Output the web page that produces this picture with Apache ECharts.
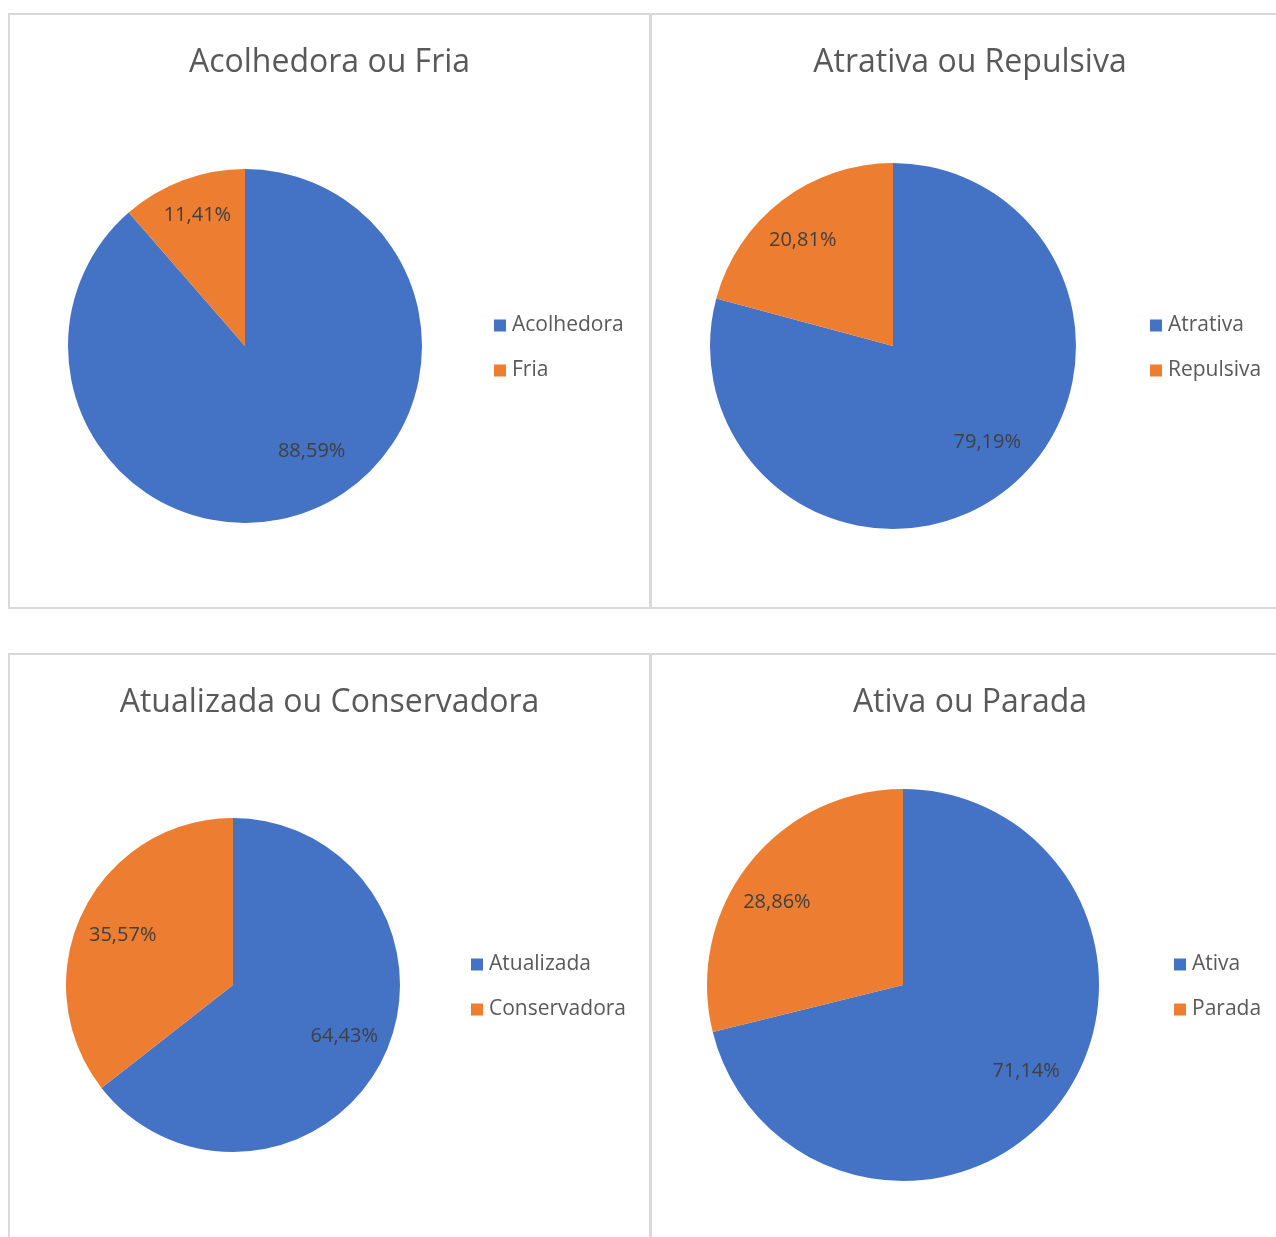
<!DOCTYPE html>
<html>
<head>
<meta charset="utf-8">
<script src="https://cdn.jsdelivr.net/npm/echarts@6/dist/echarts.min.js"></script>
<style>
  html, body { margin: 0; padding: 0; background: #ffffff; width: 1276px; height: 1237px; overflow: hidden; }
  .chart { position: absolute; }
  .frame { position: absolute; box-sizing: border-box; border: 2px solid #d9d9d9; pointer-events: none; }
</style>
</head>
<body>
<script>
// Survey results: perceived image, two opposite answers per question
const titles = ['Acolhedora ou Fria', 'Atrativa ou Repulsiva', 'Atualizada ou Conservadora', 'Ativa ou Parada'];
const firstNames = ['Acolhedora', 'Atrativa', 'Atualizada', 'Ativa'];
const secondNames = ['Fria', 'Repulsiva', 'Conservadora', 'Parada'];
const firstValues = [88.59, 79.19, 64.43, 71.14];
const secondValues = [11.41, 20.81, 35.57, 28.86];

const colors = ['#4472C4', '#ED7D31'];
const FONT = '"Open Sans", "Noto Sans", sans-serif';

// Panel boxes, pie placement and small label nudges inside each panel
const panels = [
  { left: 8,   top: 13,  width: 643, height: 596, cx: 237, cy: 333, r: 177, legendLeft: 481, legendTop: 296,
    nudge: [[19, -22], [0, -4]] },
  { left: 650, top: 13,  width: 640, height: 596, cx: 243, cy: 333, r: 183, legendLeft: 495, legendTop: 296,
    nudge: [[9, -15], [-5, 6]] },
  { left: 8,   top: 653, width: 643, height: 600, cx: 225, cy: 332, r: 167, legendLeft: 458, legendTop: 295,
    nudge: [[-4, -5], [5, 6]] },
  { left: 650, top: 653, width: 640, height: 600, cx: 253, cy: 332, r: 196, legendLeft: 519, legendTop: 295,
    nudge: [[5, -6], [-8, 10]] }
];

function fmtPct(v) {
  return v.toFixed(2).replace('.', ',') + '%';
}

panels.forEach(function (p, i) {
  const el = document.createElement('div');
  el.className = 'chart';
  el.style.left = p.left + 'px';
  el.style.top = p.top + 'px';
  el.style.width = p.width + 'px';
  el.style.height = p.height + 'px';
  document.body.appendChild(el);

  const frame = document.createElement('div');
  frame.className = 'frame';
  frame.style.left = p.left + 'px';
  frame.style.top = p.top + 'px';
  frame.style.width = p.width + 'px';
  frame.style.height = p.height + 'px';
  document.body.appendChild(frame);

  const data = [
    { name: firstNames[i], value: firstValues[i] },
    { name: secondNames[i], value: secondValues[i] }
  ];

  const chart = echarts.init(el, null, { renderer: 'canvas' });
  chart.setOption({
    animation: false,
    color: colors,
    title: {
      text: titles[i],
      left: 'center',
      top: 29,
      textStyle: { fontFamily: FONT, fontSize: 32, fontWeight: 'normal', color: '#595959' }
    },
    legend: {
      orient: 'vertical',
      left: p.legendLeft,
      top: p.legendTop + 1,
      itemWidth: 12,
      itemHeight: 12,
      itemGap: 24,
      icon: 'rect',
      data: [firstNames[i], secondNames[i]],
      textStyle: { fontFamily: FONT, fontSize: 21, color: '#595959', padding: [0, 0, 0, 1] },
      selectedMode: false
    },
    series: [
      {
        type: 'pie',
        center: [p.cx, p.cy],
        radius: [0, p.r],
        startAngle: 90,
        clockwise: true,
        silent: true,
        itemStyle: { borderWidth: 0 },
        label: { show: false },
        labelLine: { show: false },
        data: data
      },
      {
        // transparent ring used only to place the percentage labels at 3/4 radius
        type: 'pie',
        center: [p.cx, p.cy],
        radius: [0, p.r * 1.5],
        startAngle: 90,
        clockwise: true,
        silent: true,
        itemStyle: { color: 'rgba(0,0,0,0)', borderWidth: 0 },
        label: {
          show: true,
          position: 'inside',
          fontFamily: FONT,
          fontSize: 20,
          color: '#404040',
          formatter: function (params) { return fmtPct(params.value); }
        },
        labelLayout: function (params) {
          const n = p.nudge[params.dataIndex];
          return { dx: n[0], dy: n[1] };
        },
        labelLine: { show: false },
        data: data
      }
    ]
  });
});
</script>
</body>
</html>
